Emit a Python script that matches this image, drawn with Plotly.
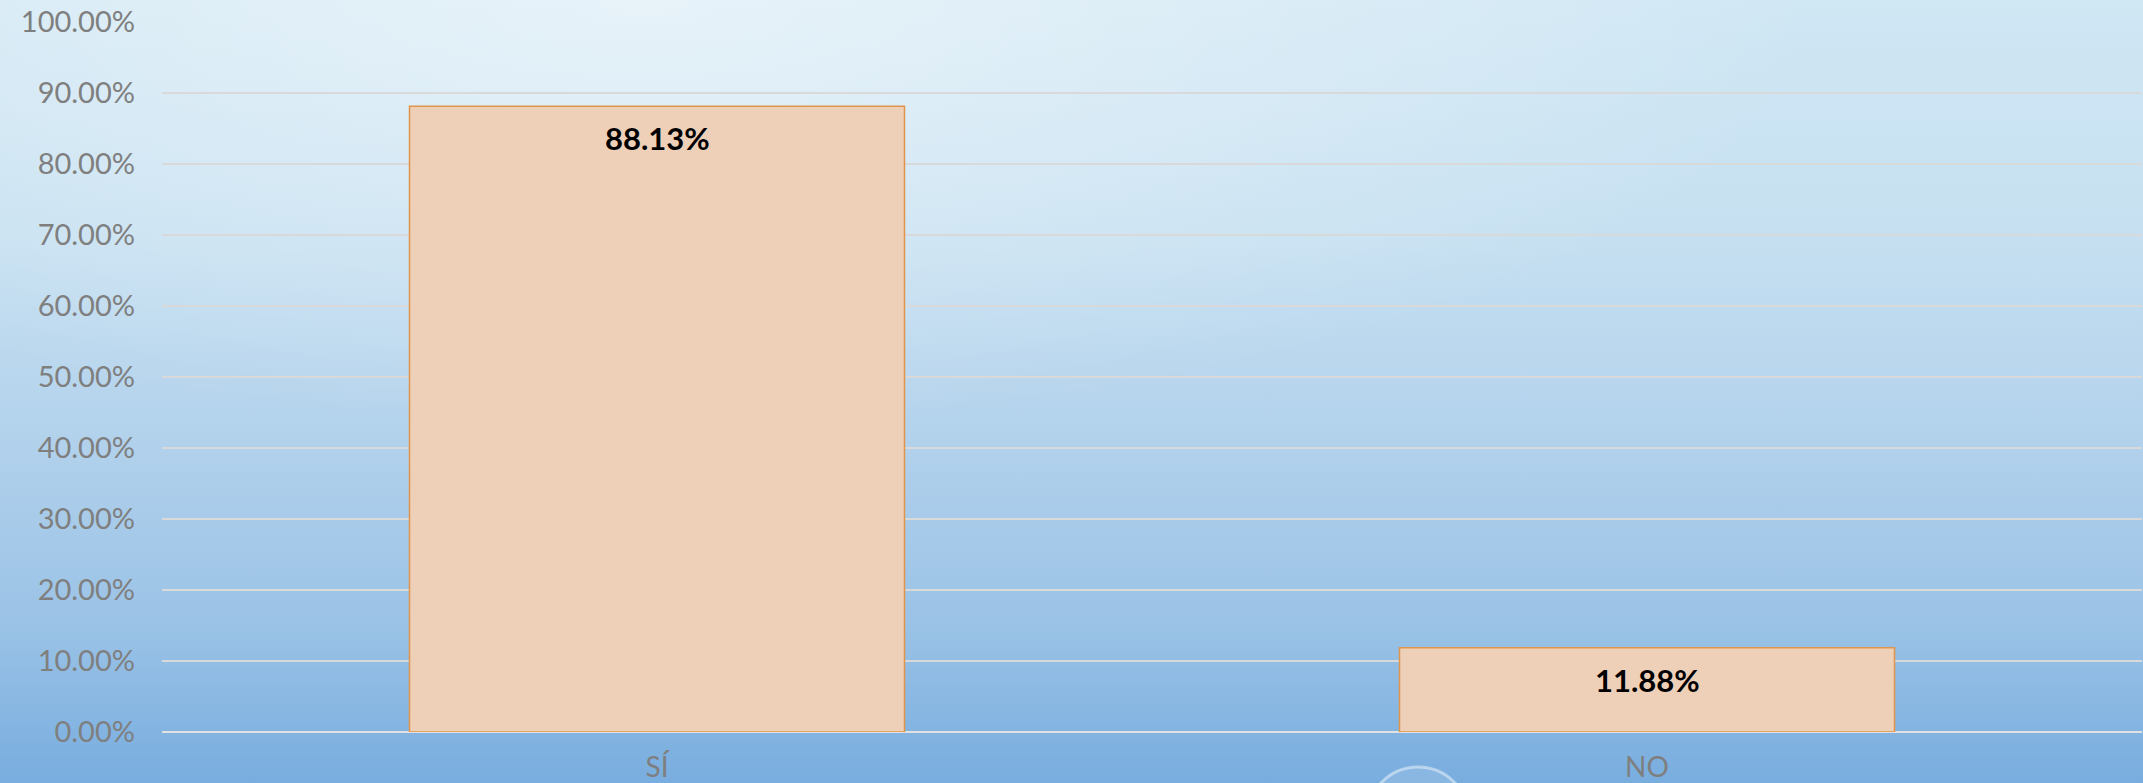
import base64
import plotly.graph_objects as go

categories = ["SÍ", "NO"]
values = [0.8813, 0.1188]
value_labels = ["88.13%", "11.88%"]
y_ticks = [0, 0.1, 0.2, 0.3, 0.4, 0.5, 0.6, 0.7, 0.8, 0.9, 1.0]

W, H = 2143, 783
L, R, T, B = 162, 1, 22, 51
pw, ph = W - L - R, H - T - B

svg = f'''<svg xmlns="http://www.w3.org/2000/svg" width="{W}" height="{H}" viewBox="0 0 {W} {H}" preserveAspectRatio="none">
<defs>
<linearGradient id="g" x1="0" y1="0" x2="0" y2="1">
<stop offset="0" stop-color="#d0e7f4"/>
<stop offset="0.3" stop-color="#c6e0f1"/>
<stop offset="0.55" stop-color="#b3d2ec"/>
<stop offset="0.8" stop-color="#9ac2e6"/>
<stop offset="1" stop-color="#78addf"/>
</linearGradient>
<radialGradient id="r" cx="0.3" cy="0.0" r="0.55">
<stop offset="0" stop-color="#ffffff" stop-opacity="0.5"/>
<stop offset="1" stop-color="#ffffff" stop-opacity="0"/>
</radialGradient>
</defs>
<rect x="0" y="0" width="{W}" height="{H}" fill="url(#g)"/>
<rect x="0" y="0" width="{W}" height="{H}" fill="url(#r)"/>
</svg>'''
bg_src = "data:image/svg+xml;base64," + base64.b64encode(svg.encode()).decode()

fig = go.Figure()
fig.add_trace(go.Bar(
    x=categories, y=values,
    marker=dict(color="#eecfb8", line=dict(color="#e0954a", width=1.5)),
    width=0.5,
    hoverinfo="skip",
))

for c, v, t in zip(categories, values, value_labels):
    fig.add_annotation(x=c, y=v, text=f"<b>{t}</b>", showarrow=False,
                       yanchor="middle", yshift=-32,
                       font=dict(family="Lato", size=31, color="#000000"))

fig.add_layout_image(dict(
    source=bg_src, xref="paper", yref="paper",
    x=-L / pw, y=1 + T / ph, sizex=W / pw, sizey=H / ph,
    xanchor="left", yanchor="top", sizing="stretch", layer="below",
))

# decorative bubble at bottom
cx, cy, rr = 1418, 818, 51
fig.add_shape(type="circle", xref="paper", yref="paper",
              x0=(cx - rr - L) / pw, x1=(cx + rr - L) / pw,
              y0=-(cy + rr - (T + ph)) / ph, y1=-(cy - rr - (T + ph)) / ph,
              line=dict(color="rgba(255,255,255,0.45)", width=3),
              fillcolor="rgba(255,255,255,0.12)", layer="above")

fig.update_layout(
    width=W, height=H,
    margin=dict(l=L, r=R, t=T, b=B),
    paper_bgcolor="rgba(0,0,0,0)",
    plot_bgcolor="rgba(0,0,0,0)",
    showlegend=False,
    bargap=0.5,
    font=dict(family="Lato", color="#7f7f7f"),
    xaxis=dict(
        showgrid=False, showline=False, zeroline=False,
        tickfont=dict(size=28, color="#7f7f7f"),
        ticks="outside", ticklen=10, tickcolor="rgba(0,0,0,0)",
        automargin=False,
    ),
    yaxis=dict(
        range=[0, 1], tickvals=y_ticks, tickformat=".2%",
        showgrid=True, gridcolor="#d9d9d9", gridwidth=2,
        zeroline=True, zerolinecolor="#e2e2e2", zerolinewidth=2,
        showline=False,
        tickfont=dict(size=29, color="#7f7f7f"),
        ticklabelstandoff=26,
        automargin=False,
    ),
)

fig.write_html("out.html", config={"displayModeBar": False},
               post_script="document.body.style.margin='0';document.body.style.overflow='hidden';")
